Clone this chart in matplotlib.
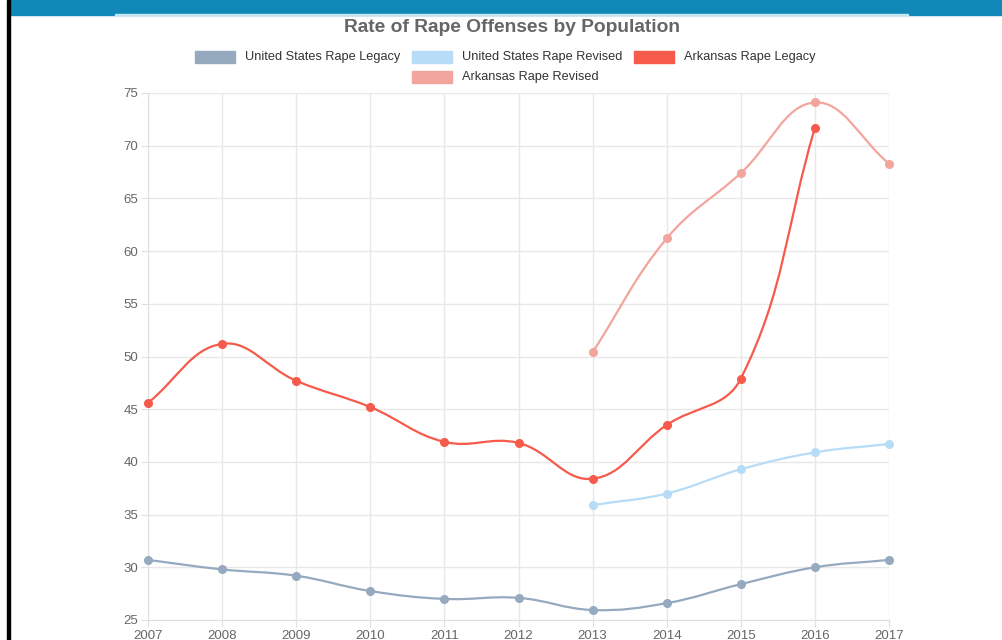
import numpy as np
import matplotlib
matplotlib.use('Agg')
import matplotlib.pyplot as plt
from matplotlib.path import Path
from matplotlib.patches import PathPatch, Rectangle

plt.rcParams['font.family'] = ['Liberation Sans', 'DejaVu Sans']

# Datos
years = [2007, 2008, 2009, 2010, 2011, 2012, 2013, 2014, 2015, 2016, 2017]
us_legacy = [30.7, 29.8, 29.2, 27.75, 27.0, 27.1, 25.95, 26.6, 28.4, 30.0, 30.7]
us_revised = [None, None, None, None, None, None, 35.9, 37.0, 39.3, 40.9, 41.7]
ar_legacy = [45.6, 51.2, 47.7, 45.2, 41.9, 41.8, 38.4, 43.5, 47.9, 71.7, None]
ar_revised = [None, None, None, None, None, None, 50.4, 61.2, 67.4, 74.1, 68.3]

series_names = ['United States Rape Legacy', 'United States Rape Revised',
                'Arkansas Rape Legacy', 'Arkansas Rape Revised']
colores = ['#95a9bf', '#b6dcf7', '#f65a4b', '#f2a59c']
y_ticks = [25, 30, 35, 40, 45, 50, 55, 60, 65, 70, 75]

fig = plt.figure(figsize=(10.03, 6.4), dpi=100)

# Fondo de la diapositiva (banda azul y borde negro)
fig.patches.append(Rectangle((0.009, 0.977), 0.991, 0.023, transform=fig.transFigure,
                             color='#1189b8', zorder=0))
fig.patches.append(Rectangle((0.115, 0.9765), 0.79, 0.0016, transform=fig.transFigure,
                             color='#c4e6f2', zorder=1))
fig.patches.append(Rectangle((0.007, 0.0), 0.0025, 1.0, transform=fig.transFigure,
                             color='black', zorder=2))

ax = fig.add_axes([148 / 1003, 1 - 620 / 640, (889 - 148) / 1003, (620 - 93) / 640])
ax.set_xlim(2007, 2017)
ax.set_ylim(25, 75)
ax.set_xticks(years)
ax.set_yticks(y_ticks)
ax.set_xticklabels([str(y) for y in years])
ax.grid(True, color='#e8e8e8', linewidth=1)
ax.set_axisbelow(True)
for s in ['top', 'right']:
    ax.spines[s].set_visible(False)
for s in ['left', 'bottom']:
    ax.spines[s].set_color('#e0e0e0')
ax.tick_params(colors='#e0e0e0', labelcolor='#666666', labelsize=9.5, length=5, pad=2)


def curva_suave(ax, xs, ys, tension=0.4):
    pts = ax.transData.transform(np.column_stack([xs, ys]))
    n = len(pts)
    cp_prev, cp_next = [], []
    for i in range(n):
        prev = pts[max(i - 1, 0)]
        cur = pts[i]
        nxt = pts[min(i + 1, n - 1)]
        d01 = np.hypot(*(cur - prev))
        d12 = np.hypot(*(nxt - cur))
        tot = d01 + d12
        s01 = d01 / tot if tot else 0
        s12 = d12 / tot if tot else 0
        cp_prev.append(cur - tension * s01 * (nxt - prev))
        cp_next.append(cur + tension * s12 * (nxt - prev))
    verts = [pts[0]]
    codes = [Path.MOVETO]
    for i in range(n - 1):
        verts += [cp_next[i], cp_prev[i + 1], pts[i + 1]]
        codes += [Path.CURVE4] * 3
    verts = ax.transData.inverted().transform(np.array(verts))
    return Path(verts, codes)


for vals, col in zip([us_legacy, us_revised, ar_legacy, ar_revised], colores):
    xs = [x for x, v in zip(years, vals) if v is not None]
    ys = [v for v in vals if v is not None]
    ax.add_patch(PathPatch(curva_suave(ax, xs, ys), facecolor='none', edgecolor=col,
                           linewidth=1.6, zorder=3))
    ax.plot(xs, ys, linestyle='none', marker='o', markersize=5.5, color=col, zorder=4,
            clip_on=False)

# Titulo
fig.text(512 / 1003, 1 - 25 / 640, 'Rate of Rape Offenses by Population', ha='center',
         va='center_baseline', fontsize=13.8, fontweight='bold', color='#666666')

# Leyenda manual (estilo Chart.js)
leg_pos = [(195, 57), (412, 57), (634, 57), (412, 77)]
for (px, py), name, col in zip(leg_pos, series_names, colores):
    fig.patches.append(Rectangle((px / 1003, 1 - (py + 6) / 640), 40 / 1003, 12 / 640,
                                 transform=fig.transFigure, color=col))
    fig.text((px + 50) / 1003, 1 - py / 640, name, ha='left', va='center',
             fontsize=9.2, color='#333333')

fig.savefig('out.png', dpi=100)
